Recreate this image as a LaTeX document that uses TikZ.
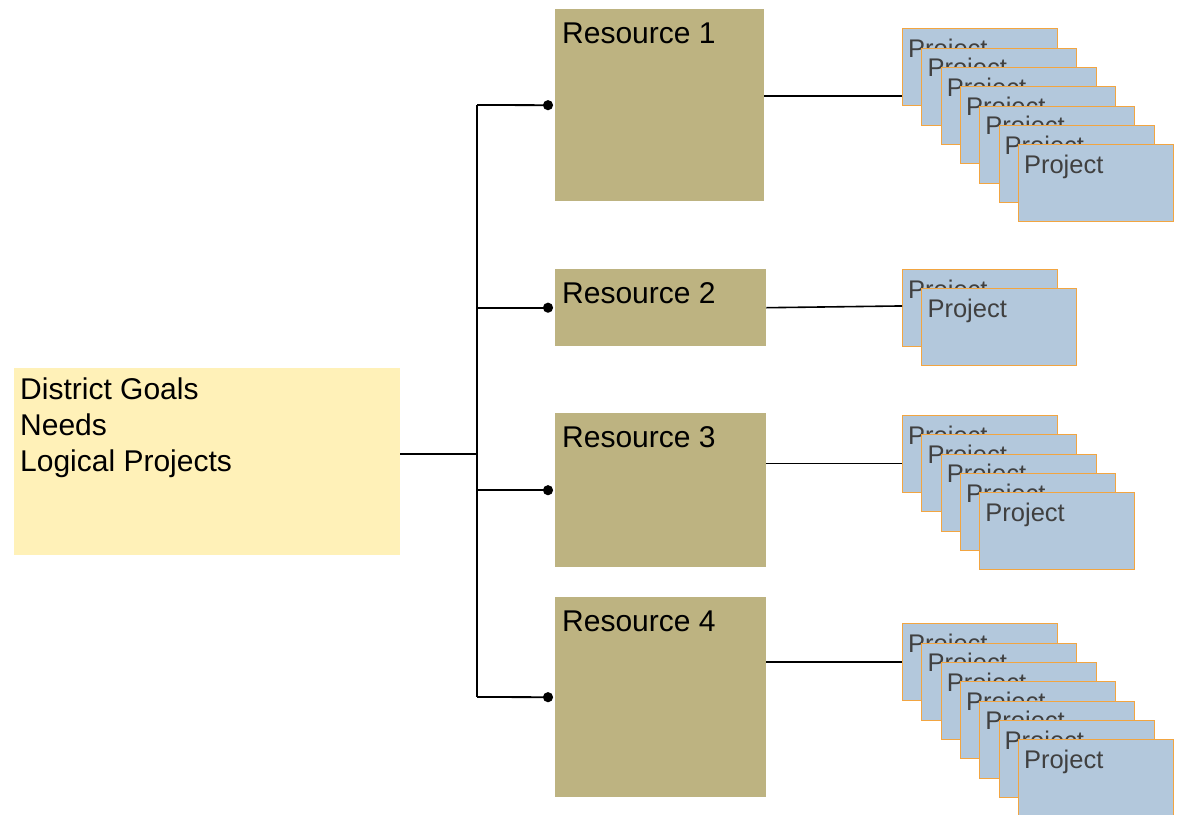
\documentclass[tikz,border=0pt]{standalone}
\usepackage{fontspec}
\setmainfont{Liberation Sans}
\usetikzlibrary{arrows.meta,calc}
\definecolor{goalfill}{HTML}{FFF1B8}
\definecolor{resfill}{HTML}{BDB381}
\definecolor{projfill}{HTML}{B3C8DC}
\definecolor{projedge}{HTML}{F2A541}
\definecolor{projink}{HTML}{404040}
\tikzset{
  goalbox/.style={fill=goalfill, anchor=north west, inner sep=0pt, minimum width=386pt, minimum height=187pt},
  resbox/.style={fill=resfill, anchor=north west, inner sep=0pt, minimum width=211pt},
  projbox/.style={fill=projfill, draw=projedge, line width=0.9pt, anchor=north west, inner sep=0pt, minimum width=155pt, minimum height=77pt},
  bigtext/.style={font=\fontsize{30}{36}\selectfont, text=black, anchor=base west, inner sep=0pt},
  projtext/.style={font=\fontsize{25.5}{30}\selectfont, text=projink, anchor=base west, inner sep=0pt},
  bus/.style={line width=1.8pt, black},
  branch/.style={line width=1.8pt, black, -{Circle[length=10pt]}, shorten >=2pt},
  link/.style={line width=1.6pt, black},
}
\newcommand{\projstack}[4]{%
  \foreach \i in {1,...,#4}{%
    \node[projbox] (#1\i) at ({#2+(\i-1)*19.3},{#3+(\i-1)*19.3}) {};
    \node[projtext] (#1\i t) at ($(#1\i.north west)+(6,29.3)$) {Project};
  }%
}
\begin{document}
\begin{tikzpicture}[x=1pt,y=-1pt]
\useasboundingbox (0,0) rectangle (1180,814);
% goal box
\node[goalbox] (goal) at (14,368) {};
\node[bigtext] (g1) at ($(goal.north west)+(6,31)$) {District Goals};
\node[bigtext] (g2) at ($(goal.north west)+(6,67)$) {Needs};
\node[bigtext] (g3) at ($(goal.north west)+(6,103)$) {Logical Projects};
% resources
\node[resbox, minimum width=209pt, minimum height=192pt] (r1) at (555,9) {};
\node[bigtext] (r1t) at ($(r1.north west)+(7,34.5)$) {Resource 1};
\node[resbox, minimum height=77pt] (r2) at (555,269) {};
\node[bigtext] (r2t) at ($(r2.north west)+(7,34.5)$) {Resource 2};
\node[resbox, minimum height=154pt] (r3) at (555,413) {};
\node[bigtext] (r3t) at ($(r3.north west)+(7,34.5)$) {Resource 3};
\node[resbox, minimum height=200pt] (r4) at (555,597) {};
\node[bigtext] (r4t) at ($(r4.north west)+(7,34.5)$) {Resource 4};
% bus
\coordinate (bt) at (477,105);
\coordinate (bb) at (477,697);
\coordinate (bj) at (477,454);
\draw[bus] (bt) -- (bb);
\draw[bus] (goal.east |- bj) -- (bj);
\draw[branch] (bt) -- (r1.west);
\draw[branch] (bt |- r2.west) -- (r2.west);
\draw[branch] (bt |- r3.west) -- (r3.west);
\draw[branch] (bb) -- (r4.west);
% project stacks
\projstack{pa}{902}{28.3}{7}
\projstack{pb}{902}{269}{2}
\projstack{pc}{902}{415}{5}
\projstack{pd}{902}{623.3}{7}
% links
\draw[link] ($(r1.east)+(0,-9)$) -- (pa1.west |- {$(r1.east)+(0,-9)$});
\draw[link] (r2.east) -- ($(pb1.west)+(0,-2)$);
\draw[link] (r3.east |- pc1.west) ++(0,9.5) coordinate (c3) -- (pc1.west |- c3);
\draw[link] (r4.east |- pd1.west) -- (pd1.west);
\end{tikzpicture}
\end{document}
